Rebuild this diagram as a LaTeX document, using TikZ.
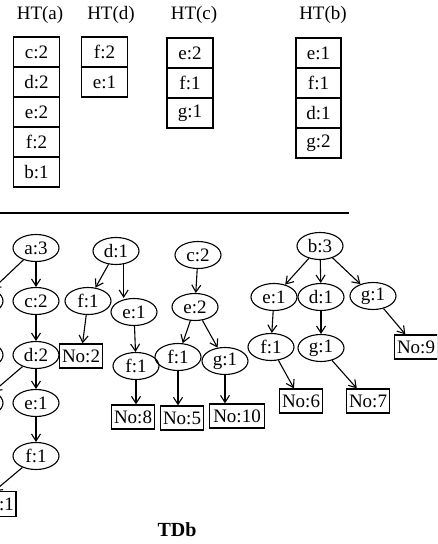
\documentclass[tikz,border=0pt]{standalone}
\usepackage{fontspec}
\setmainfont{Liberation Serif}
\usetikzlibrary{arrows.meta,positioning,shapes.geometric}
\newcommand{\txtsize}{\fontsize{19}{21}\selectfont}
\tikzset{
  htlabel/.style={inner sep=0pt, font=\txtsize},
  cell/.style={
    draw, line width=1.3pt, minimum width=46pt, minimum height=30pt,
    inner sep=0pt, outer sep=0pt, font=\txtsize
  },
  tnode/.style={
    ellipse, draw, line width=1.1pt, minimum width=46pt, minimum height=27pt,
    inner sep=0.5pt, font=\txtsize
  },
  leaf/.style={
    draw, line width=1.3pt, minimum width=43pt, minimum height=24pt,
    inner sep=1.5pt, font=\txtsize
  },
  arr/.style={-{Straight Barb[length=7pt,width=9pt]}, line width=1.1pt}
}
\begin{document}
\begin{tikzpicture}[x=1pt,y=-1pt]
  \useasboundingbox (0,0) rectangle (437,544);
  \clip (0,0) rectangle (437,544);
  % header tables
  \node[htlabel] (hta) at (40,15) {HT(a)};
  \node[htlabel] (htd) at (111,15) {HT(d)};
  \node[htlabel] (htc) at (194,15) {HT(c)};
  \node[htlabel] (htb) at (323,15) {HT(b)};
  \node[cell] (ha1) at (36.5,52) {c:2};
  \node[cell, below=0pt of ha1] (ha2) {d:2};
  \node[cell, below=0pt of ha2] (ha3) {e:2};
  \node[cell, below=0pt of ha3] (ha4) {f:2};
  \node[cell, below=0pt of ha4] (ha5) {b:1};
  \node[cell] (hd1) at (104.5,52) {f:2};
  \node[cell, below=0pt of hd1] (hd2) {e:1};
  \node[cell] (hc1) at (190,53) {e:2};
  \node[cell, below=0pt of hc1] (hc2) {f:1};
  \node[cell, below=0pt of hc2] (hc3) {g:1};
  \node[cell, minimum width=45pt] (hb1) at (318.5,53) {e:1};
  \node[cell, minimum width=45pt, below=0pt of hb1] (hb2) {f:1};
  \node[cell, minimum width=45pt, below=0pt of hb2] (hb3) {d:1};
  \node[cell, minimum width=45pt, below=0pt of hb3] (hb4) {g:2};
  \coordinate (rulel) at (0,213);
  \coordinate (ruler) at (349,213);
  \draw[line width=1.4pt] (rulel) -- (ruler);
  % tree a
  \node[tnode] (a3) at (36,248) {a:3};
  \node[tnode] (ac2) at (36,301) {c:2};
  \node[tnode] (ad2) at (36,355) {d:2};
  \node[tnode] (ae1) at (36,403) {e:1};
  \node[tnode] (af1) at (36,456) {f:1};
  \node[tnode] (ax1) at (-20,301) {};
  \node[tnode] (ax2) at (-20,355) {};
  \node[tnode] (ax3) at (-20,403) {};
  \node[leaf, draw=none, minimum width=0pt, anchor=east] (no1) at (16,504) {:1};
  \draw[line width=1.3pt] (no1.north east) rectangle ([xshift=-43pt]no1.south east);
  \draw[arr] (a3) -- (ac2);
  \draw[arr] (a3) -- (ax1);
  \draw[arr] (ac2) -- (ad2);
  \draw[arr] (ad2) -- (ae1);
  \draw[arr] (ad2) -- (ax3);
  \draw[arr] (ae1) -- (af1);
  \draw[arr] (af1) -- ([xshift=-22pt]no1.north east);
  % tree d
  \node[tnode] (d1) at (116,251) {d:1};
  \node[tnode] (df1) at (88,301) {f:1};
  \node[tnode] (de1) at (134,312) {e:1};
  \node[leaf] (no2) at (81,356) {No:2};
  \node[tnode] (def1) at (136,366) {f:1};
  \node[leaf] (no8) at (133,417) {No:8};
  \draw[arr] (d1) -- (df1);
  \draw[arr] (d1.-60) -- (d1.-60 |- de1.north);
  \draw[arr] (df1) -- (no2);
  \draw[arr] (de1) -- (def1);
  \draw[arr] (def1) -- (def1 |- no8.north);
  % tree c
  \node[tnode] (c2) at (198,255) {c:2};
  \node[tnode] (ce2) at (195,307) {e:2};
  \node[tnode] (cf1) at (178,357) {f:1};
  \node[tnode] (cg1) at (225,361) {g:1};
  \node[leaf] (no5) at (182,418) {No:5};
  \node[leaf, minimum width=55pt] (no10) at (237,416) {No:10};
  \draw[arr] (c2) -- (ce2);
  \draw[arr] (ce2) -- (cf1);
  \draw[arr] (ce2) -- (cg1);
  \draw[arr] (cf1) -- (cf1 |- no5.north);
  \draw[arr] (cg1) -- (cg1 |- no10.north);
  % tree b
  \node[tnode] (b3) at (320,246) {b:3};
  \node[tnode] (be1) at (274,297) {e:1};
  \node[tnode] (bd1) at (321,297) {d:1};
  \node[tnode] (bg1) at (373,296) {g:1};
  \node[tnode] (bf1) at (271,347) {f:1};
  \node[tnode] (bdg1) at (321,348) {g:1};
  \node[leaf] (no9) at (416,347) {No:9};
  \node[leaf] (no6) at (301,401) {No:6};
  \node[leaf] (no7) at (368,401) {No:7};
  \draw[arr] (b3) -- (be1);
  \draw[arr] (b3) -- (bd1);
  \draw[arr] (b3) -- (bg1);
  \draw[arr] (be1) -- (bf1);
  \draw[arr] (bd1) -- (bdg1);
  \draw[arr] (bg1) -- (no9);
  \draw[arr] (bf1) -- (no6);
  \draw[arr] (bdg1) -- (no7);
  \node[font=\fontsize{20}{22}\selectfont\bfseries] (title) at (177,530) {TDb};
\end{tikzpicture}
\end{document}
